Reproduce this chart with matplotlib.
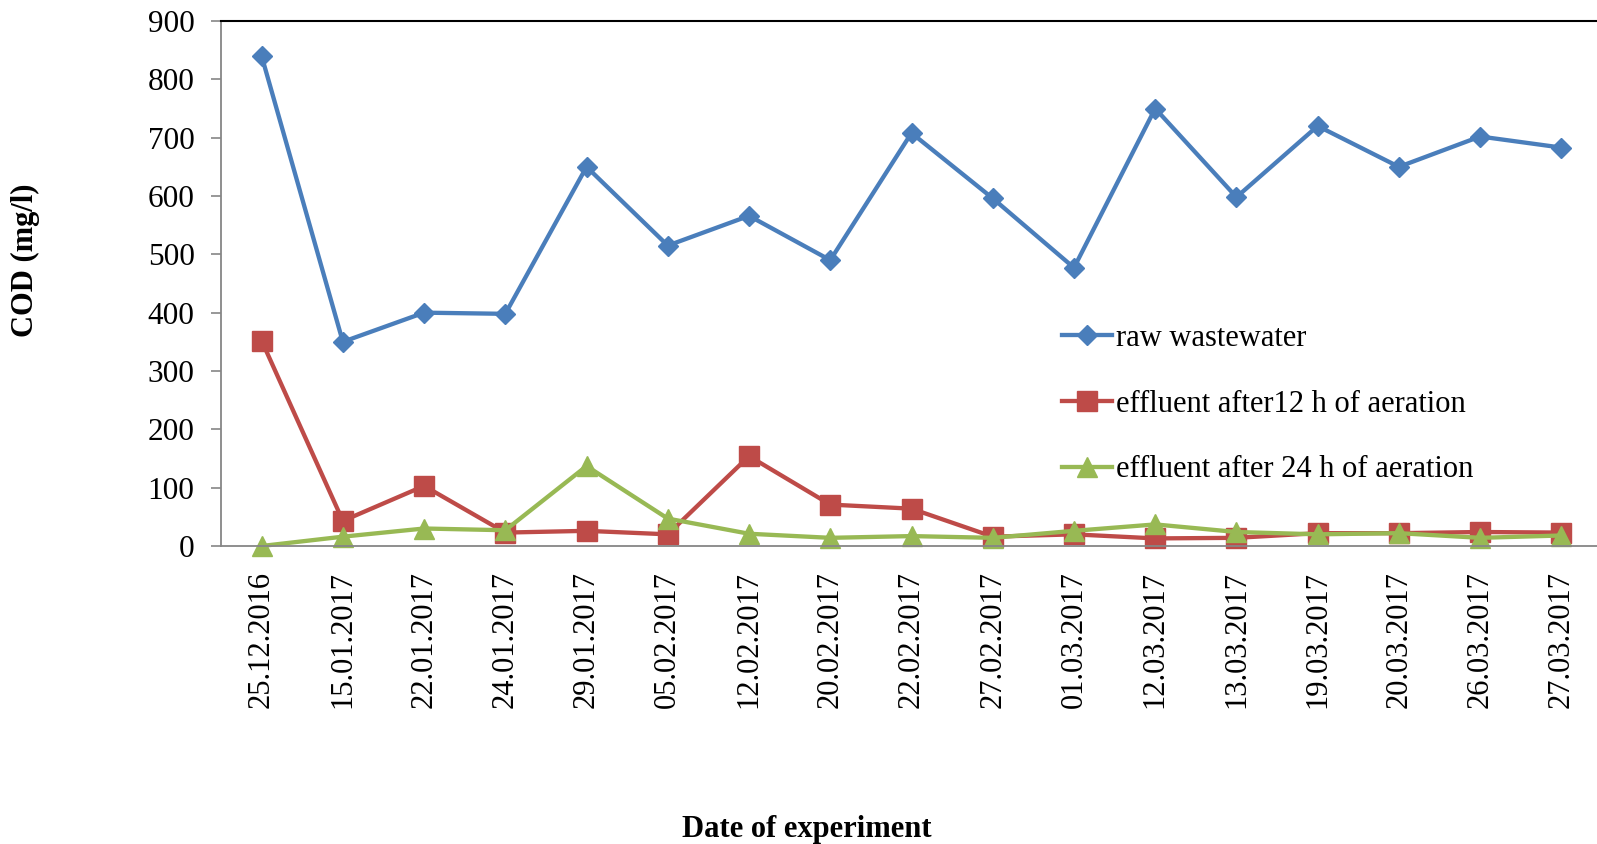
import matplotlib
matplotlib.use('Agg')
import matplotlib.pyplot as plt

plt.rcParams['font.family'] = ['Liberation Serif', 'DejaVu Serif']

dates = ['25.12.2016', '15.01.2017', '22.01.2017', '24.01.2017', '29.01.2017',
         '05.02.2017', '12.02.2017', '20.02.2017', '22.02.2017', '27.02.2017',
         '01.03.2017', '12.03.2017', '13.03.2017', '19.03.2017', '20.03.2017',
         '26.03.2017', '27.03.2017']
raw_ww = [840, 350, 400, 398, 650, 515, 566, 490, 708, 596, 477, 750, 598, 720, 650, 702, 683]
eff_12h = [352, 43, 103, 23, 26, 20, 154, 71, 64, 16, 20, 13, 14, 22, 22, 24, 23]
eff_24h = [0, 16, 30, 27, 137, 47, 21, 14, 17, 14, 26, 37, 24, 20, 22, 14, 18]

labels = ['raw wastewater', 'effluent after12 h of aeration', 'effluent after 24 h of aeration']
cols = ['#4A7EBB', '#BE4B48', '#98B954']

W, H = 1597, 844
fig = plt.figure(figsize=(W/100, H/100), dpi=100)
ax = fig.add_axes([221/W, 1-546/H, (1602-221)/W, (546-21)/H])

x = list(range(len(dates)))
ax.plot(x, raw_ww, color=cols[0], lw=3.1, marker='D', ms=10, label=labels[0], clip_on=False)
ax.plot(x, eff_12h, color=cols[1], lw=3.1, marker='s', ms=14, label=labels[1], clip_on=False)
ax.plot(x, eff_24h, color=cols[2], lw=3.1, marker='^', ms=14, label=labels[2], clip_on=False)

ax.set_xlim(-0.5, len(dates)-0.5)
ax.set_ylim(0, 900)
ax.set_yticks(range(0, 901, 100))
ax.set_xticks(x)
ax.set_xticklabels(dates, rotation=90, fontsize=22)
ax.tick_params(axis='x', length=0, pad=18)
ax.tick_params(axis='y', length=7, width=1.2, color='#868686', labelsize=22.5, pad=12, direction='out')
for s in ['left', 'bottom']:
    ax.spines[s].set_color('#868686')
    ax.spines[s].set_linewidth(1.3)
ax.spines['top'].set_color('black')
ax.spines['top'].set_linewidth(1.5)
ax.spines['right'].set_visible(False)

fig.legend(loc='upper left', bbox_to_anchor=(1062/W, 1-324/H), frameon=False, fontsize=22,
           handlelength=1.65, handletextpad=0.13, labelspacing=1.2, borderpad=0, borderaxespad=0)

fig.text(25/W, 1-260/H, 'COD (mg/l)', rotation=90, ha='center', va='center',
         fontsize=22, fontweight='bold')
fig.text(807/W, 1-829/H, 'Date of experiment', ha='center', va='center',
         fontsize=22, fontweight='bold')

fig.savefig('out.png', dpi=100)
